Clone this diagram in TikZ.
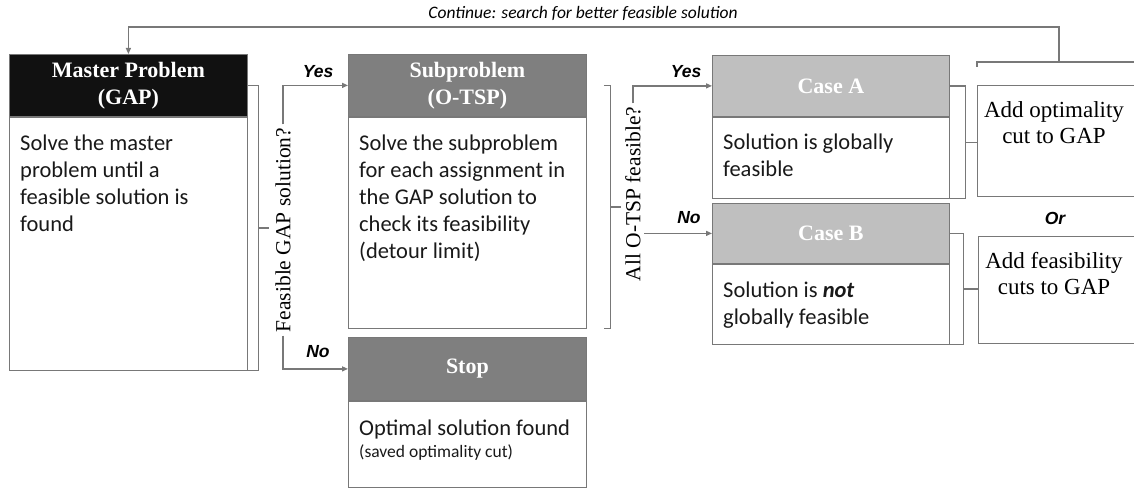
\documentclass[tikz,border=0pt]{standalone}
\usepackage{fontspec}
\setmainfont{Liberation Serif}
\setsansfont{Carlito}
\newfontfamily\arialfont{Liberation Sans}
\usetikzlibrary{arrows.meta, positioning, calc}
\definecolor{headdark}{RGB}{17, 17, 17}
\definecolor{headmid}{RGB}{127, 127, 127}
\definecolor{headlight}{RGB}{191, 191, 191}
\definecolor{linegray}{RGB}{120, 120, 120}

\begin{document}
\begin{tikzpicture}[x=1pt, y=-1pt,
  head/.style={draw=linegray, line width=0.8pt, anchor=north west, minimum width=238pt, minimum height=62pt, inner sep=0pt, align=center, text=white, font=\fontsize{22}{27}\selectfont\bfseries},
  frame/.style={draw=linegray, line width=0.8pt, anchor=north west, minimum width=238pt, inner sep=0pt},
  body/.style={anchor=north west, align=left, inner sep=0pt, text=black!90, font=\sffamily\fontsize{22.5}{27}\selectfont},
  cut/.style={draw=linegray, line width=0.8pt, anchor=north west, minimum width=175pt, inner sep=0pt},
  cuttext/.style={align=center, font=\fontsize{23}{26}\selectfont},
  ask/.style={rotate=90, font=\fontsize{21.5}{24}\selectfont},
  ans/.style={font=\arialfont\bfseries\itshape\fontsize{17.5}{20}\selectfont},
  link/.style={draw=linegray, line width=1.3pt},
  arr/.style={link, -{Triangle[length=6pt, width=5pt]}}
]
  \useasboundingbox (0,0) rectangle (1134,489);
  \clip (0,0) rectangle (1134,489);

  % master problem
  \node[head, fill=headdark] (mhead) at (9,54) {Master Problem\\(GAP)};
  \node[frame, minimum height=253pt] (mbody) at (mhead.south west) {};
  \node[body] (mtext) at ([shift={(11pt,-17.5pt)}]mbody.north west)
    {Solve the master\\problem until a\\feasible solution is\\found};

  % subproblem and stop
  \node[head, fill=headmid] (shead) at (348,54) {Subproblem\\(O-TSP)};
  \node[frame, minimum height=211pt] (sbody) at (shead.south west) {};
  \node[body] (stext) at ([shift={(11pt,-17.5pt)}]sbody.north west)
    {Solve the subproblem\\for each assignment in\\the GAP solution to\\check its feasibility\\(detour limit)};

  \node[head, fill=headmid, minimum height=63pt] (thead) at (348,337) {Stop};
  \node[frame, minimum height=86pt] (tbody) at (thead.south west) {};
  \node[body] (ttext) at ([shift={(11pt,-19pt)}]tbody.north west)
    {Optimal solution found\\[-5pt]{\fontsize{17.5}{20}\selectfont(saved optimality cut)}};

  % the two cases
  \node[head, fill=headlight, minimum width=237pt, minimum height=61pt] (ahead) at (712,55) {Case A};
  \node[frame, minimum width=237pt, minimum height=81pt] (abody) at (ahead.south west) {};
  \node[body] (atext) at ([shift={(11pt,-16.5pt)}]abody.north west)
    {Solution is globally\\feasible};

  \node[head, fill=headlight, minimum width=237pt, minimum height=60pt] (bhead) at (712,203) {Case B};
  \node[frame, minimum width=237pt, minimum height=80pt] (bbody) at (bhead.south west) {};
  \node[body] (btext) at ([shift={(11pt,-17.5pt)}]bbody.north west)
    {Solution is \textbf{\textit{not}}\\globally feasible};

  % cuts
  \node[cut, minimum height=111pt] (optbox) at (977,85) {};
  \node[cuttext] (opttext) at (1054,123) {Add optimality\\cut to GAP};
  \node[cut, minimum height=107pt] (feasbox) at (978,236) {};
  \node[cuttext] (feastext) at (1054,274) {Add feasibility\\cuts to GAP};
  \node[ans] (orlbl) at (1055,218) {Or};

  % decisions
  \node[ask] (feas) at (283,230) {Feasible GAP solution?};
  \node[ask] (allf) at (633,194) {All O-TSP feasible?};
  \node[ans] (yes1) at (318,72) {Yes};
  \node[ans] (no1) at (318,352) {No};
  \node[ans] (yes2) at (686,72) {Yes};
  \node[ans] (no2) at (689,218) {No};

  \draw[arr] (feas.east) |- (shead.west);
  \draw[arr] (feas.west) |- (thead.west);
  \draw[arr] (allf.east) |- (ahead.west);
  \draw[arr] (allf.south |- bhead.west) -- (bhead.west);

  % brackets
  \draw[link] (mhead.east) -- ++(11,0) coordinate (mb) |- (mbody.south east);
  \draw[link] ($(mb)!0.5!(mb |- mbody.south)$) -- ++(10,0);
  \draw[link] ([xshift=17pt]shead.east) -- ++(7,0) coordinate (sb) |- ([xshift=17pt]sbody.south east);
  \draw[link] ($(sb)!0.5!(sb |- sbody.south)$) -- ++(10,0);
  \draw[link] (ahead.east) -- ++(16,0) coordinate (ab) |- (abody.south east);
  \draw[link] ($(ab)!0.5!(ab |- abody.south)$) coordinate (am) -- (am -| optbox.west);
  \draw[link] (bhead.east) -- ++(14,0) coordinate (bb) |- (bbody.south east);
  \draw[link] ($(bb)!0.5!(bb |- bbody.south)$) coordinate (bm) -- (bm -| feasbox.west);

  % loop back to the master
  \draw[link] ([yshift=18pt]optbox.north west) -- ++(0,-5) coordinate (ob) -- ++(180,0);
  \coordinate (turn) at ($(ob)+(82,0)$);
  \draw[arr] (turn) -- ++(0,-35) -| (mhead.north);
  \node[font=\sffamily\itshape\fontsize{17.5}{20}\selectfont] (cont) at (583,13) {Continue: search for better feasible solution};
\end{tikzpicture}
\end{document}
